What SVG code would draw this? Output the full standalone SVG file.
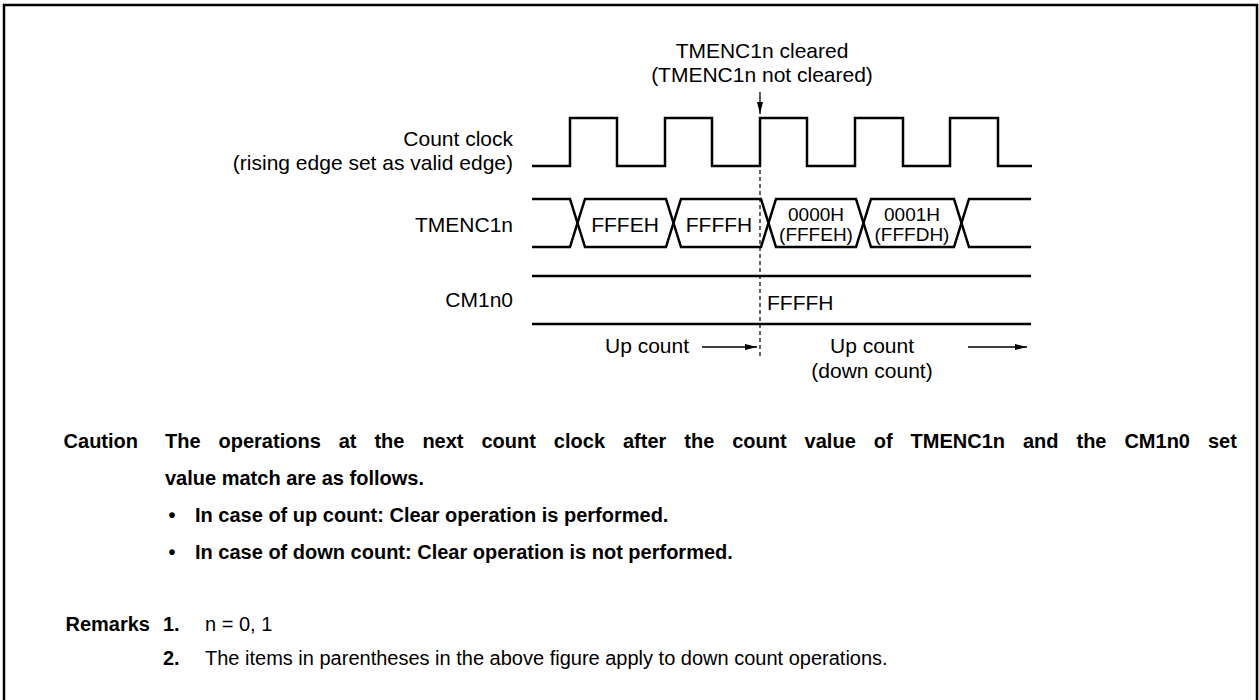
<svg xmlns="http://www.w3.org/2000/svg" width="1259" height="700" viewBox="0 0 1259 700">
<style>
.lbl{font-family:"Liberation Sans",Arial,sans-serif;font-size:21px;fill:#000}
.sm{font-family:"Liberation Sans",Arial,sans-serif;font-size:19px;fill:#000}
.note{font-family:"Liberation Sans",Arial,sans-serif;font-size:20px;fill:#000}
.b{font-weight:bold}
.wave{fill:none;stroke:#000;stroke-width:2.5}
.thin{fill:none;stroke:#000;stroke-width:1.3}
</style>
<defs>
<marker id="ah" markerWidth="12" markerHeight="6" refX="12" refY="3" orient="auto" markerUnits="userSpaceOnUse">
<path d="M0,0 L12,3 L0,6 Z" fill="#000"/>
</marker>
</defs>
<rect width="1259" height="700" fill="#fff"/>
<path d="M4,700 V5 H1257 V700" fill="none" stroke="#000" stroke-width="2.5"/>

<g id="title">
<text class="lbl" x="762" y="58" text-anchor="middle">TMENC1n cleared</text>
<text class="lbl" x="762" y="82" text-anchor="middle">(TMENC1n not cleared)</text>
</g>

<g id="count-clock">
<text class="lbl" x="513" y="146" text-anchor="end">Count clock</text>
<text class="lbl" x="513" y="170" text-anchor="end">(rising edge set as valid edge)</text>
<path class="wave" d="M532,166 H570 V118 H617 V166 H665 V118 H712 V166 H760 V118 H807 V166 H855 V118 H903 V166 H950 V118 H998 V166 H1032"/>
</g>

<g id="tmenc1n">
<text class="lbl" x="513" y="232" text-anchor="end">TMENC1n</text>
<path class="wave" d="M532,199 H570 L585,247 H666 L681,199 H761 L776,247 H856 L871,199 H954 L969,247 H1031"/>
<path class="wave" d="M532,247 H570 L585,199 H666 L681,247 H761 L776,199 H856 L871,247 H954 L969,199 H1031"/>
<text class="lbl" x="625" y="232" text-anchor="middle">FFFEH</text>
<text class="lbl" x="719" y="232" text-anchor="middle">FFFFH</text>
<text class="sm" x="816" y="221" text-anchor="middle">0000H</text>
<text class="sm" x="816" y="241" text-anchor="middle">(FFFEH)</text>
<text class="sm" x="912" y="221" text-anchor="middle">0001H</text>
<text class="sm" x="912" y="241" text-anchor="middle">(FFFDH)</text>
</g>

<g id="cm1n0">
<text class="lbl" x="513" y="307" text-anchor="end">CM1n0</text>
<path class="wave" d="M532,276 H1031 M532,324 H1031"/>
<text class="lbl" x="767" y="310">FFFFH</text>
</g>

<g id="count-direction">
<text class="lbl" x="605" y="353">Up count</text>
<text class="lbl" x="872" y="353" text-anchor="middle">Up count</text>
<text class="lbl" x="872" y="378" text-anchor="middle">(down count)</text>
</g>

<g id="connectors">
<line class="thin" x1="760" y1="92" x2="760" y2="114" marker-end="url(#ah)"/>
<line x1="760" y1="170" x2="760" y2="357" stroke="#000" stroke-width="1.2" stroke-dasharray="4,3"/>
<line class="thin" x1="702" y1="347" x2="757" y2="347" marker-end="url(#ah)"/>
<line class="thin" x1="968" y1="347" x2="1027" y2="347" marker-end="url(#ah)"/>
</g>

<g id="caution">
<text class="note b" x="138" y="448" text-anchor="end">Caution</text>
<text class="note b" x="165" y="448" word-spacing="12.4">The operations at the next count clock after the count value of TMENC1n and the CM1n0 set</text>
<text class="note b" x="165" y="485">value match are as follows.</text>
<text class="note b" x="172" y="522" text-anchor="middle">•</text>
<text class="note b" x="195" y="522">In case of up count: Clear operation is performed.</text>
<text class="note b" x="172" y="559" text-anchor="middle">•</text>
<text class="note b" x="195" y="559">In case of down count: Clear operation is not performed.</text>
</g>

<g id="remarks">
<text class="note b" x="150" y="631" text-anchor="end">Remarks</text>
<text class="note b" x="163" y="631">1.</text>
<text class="note" x="205" y="631">n = 0, 1</text>
<text class="note b" x="163" y="665">2.</text>
<text class="note" x="205" y="665">The items in parentheses in the above figure apply to down count operations.</text>
</g>
</svg>
